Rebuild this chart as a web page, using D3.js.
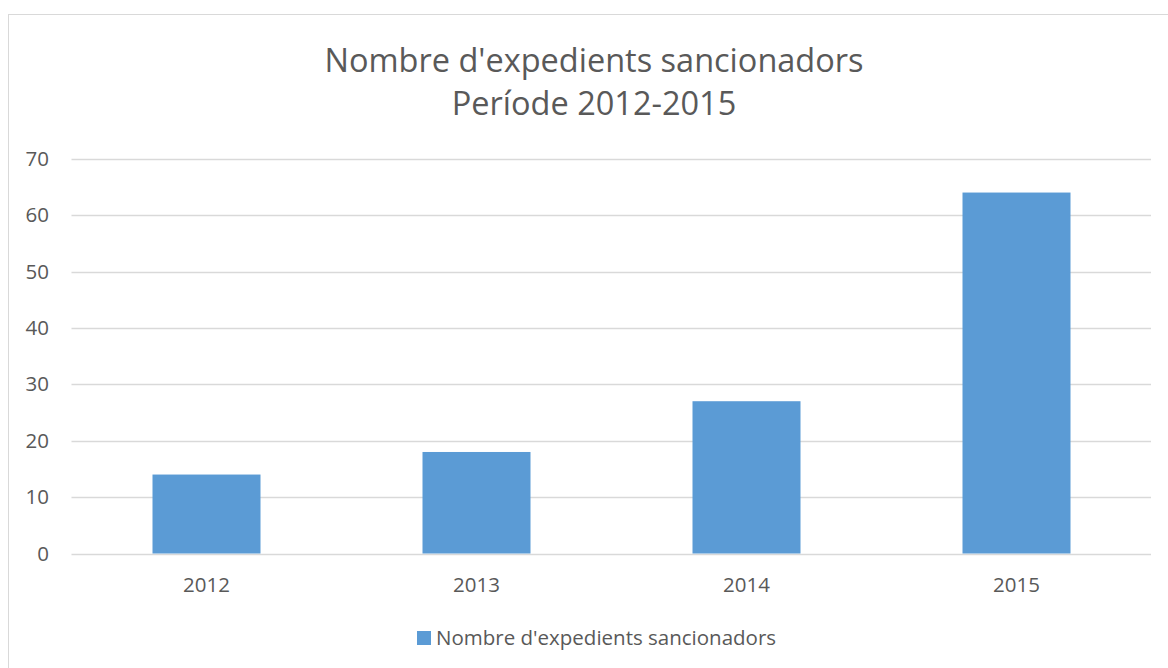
<!DOCTYPE html>
<html>
<head>
<meta charset="utf-8">
<script src="https://cdn.jsdelivr.net/npm/d3@7"></script>
<style>
  html, body { margin: 0; padding: 0; background: #fff; }
  text { font-family: "Open Sans", "Noto Sans", sans-serif; fill: #595959; }
</style>
</head>
<body>
<div id="chart"></div>
<script>
var width = 1168;
var height = 668;

// data
var years = ["2012", "2013", "2014", "2015"];
var counts = [14, 18, 27, 64];
var yTicks = [0, 10, 20, 30, 40, 50, 60, 70];
var titleLines = ["Nombre d'expedients sancionadors", "Període 2012-2015"];
var seriesName = "Nombre d'expedients sancionadors";

var barColor = "#5b9bd5";

var svg = d3.select("#chart").append("svg")
    .attr("width", width)
    .attr("height", height);

// chart frame
svg.append("rect")
    .attr("x", 8.5)
    .attr("y", 14.5)
    .attr("width", 1200)
    .attr("height", 700)
    .attr("fill", "none")
    .attr("stroke", "#d9d9d9");

var x = d3.scaleBand()
    .domain(years)
    .range([71.5, 1151.5])
    .paddingInner(0.6)
    .paddingOuter(0.3);

var y = d3.scaleLinear()
    .domain([0, 70])
    .range([553.5, 158.7]);

// gridlines
svg.append("g")
  .selectAll("line")
    .data(yTicks)
  .enter().append("line")
    .attr("x1", 71.5)
    .attr("x2", 1151)
    .attr("y1", function(d) { return Math.round(y(d)) + 0.5; })
    .attr("y2", function(d) { return Math.round(y(d)) + 0.5; })
    .attr("stroke", "#d9d9d9")
    .attr("stroke-width", 1.4);

// y labels
svg.append("g")
  .selectAll("text")
    .data(yTicks)
  .enter().append("text")
    .attr("x", 49)
    .attr("y", function(d) { return y(d); })
    .attr("dy", "0.35em")
    .attr("text-anchor", "end")
    .style("font-size", "20.5px")
    .text(function(d) { return d; });

// bars
svg.append("g")
  .selectAll("rect")
    .data(counts)
  .enter().append("rect")
    .attr("x", function(d, i) { return x(years[i]); })
    .attr("y", function(d) { return y(d); })
    .attr("width", x.bandwidth())
    .attr("height", function(d) { return y(0) - y(d); })
    .attr("fill", barColor);

// x labels
svg.append("g")
  .selectAll("text")
    .data(years)
  .enter().append("text")
    .attr("x", function(d) { return x(d) + x.bandwidth() / 2; })
    .attr("y", 585)
    .attr("dy", "0.35em")
    .attr("text-anchor", "middle")
    .style("font-size", "20.5px")
    .text(function(d) { return d; });

// title
svg.append("text")
    .attr("text-anchor", "middle")
    .style("font-size", "32.5px")
  .selectAll("tspan")
    .data(titleLines)
  .enter().append("tspan")
    .attr("x", 594)
    .attr("y", function(d, i) { return 72 + i * 43; })
    .text(function(d) { return d; });

// legend
var legend = svg.append("g");
legend.append("rect")
    .attr("x", 417)
    .attr("y", 631)
    .attr("width", 14)
    .attr("height", 14)
    .attr("fill", barColor);
legend.append("text")
    .attr("x", 436)
    .attr("y", 638)
    .attr("dy", "0.35em")
    .style("font-size", "20.5px")
    .text(seriesName);
</script>
</body>
</html>
